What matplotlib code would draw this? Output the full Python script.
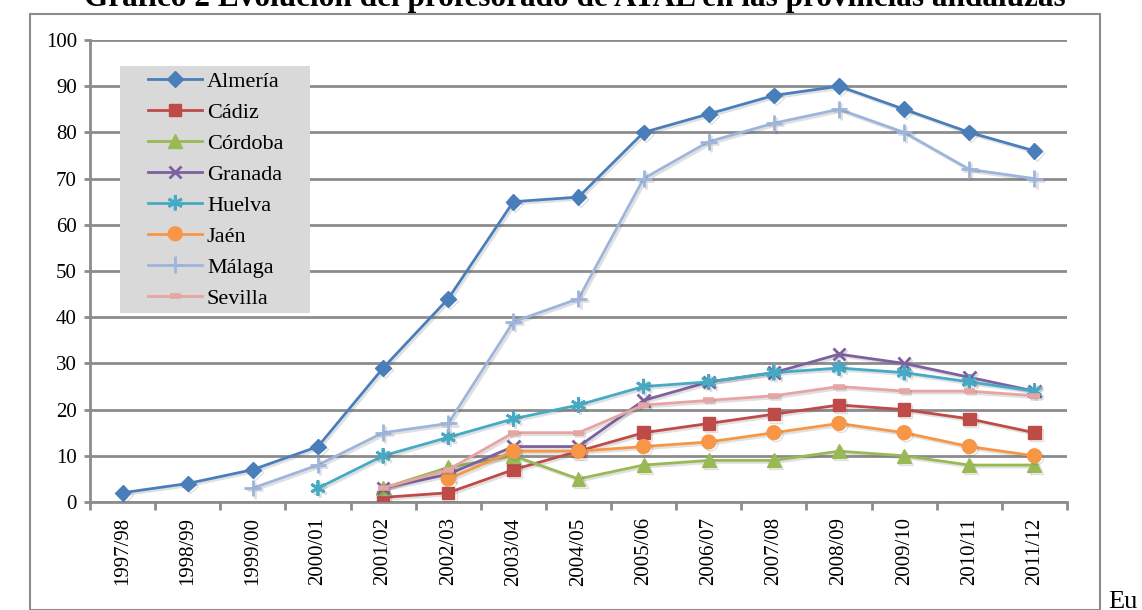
import matplotlib
matplotlib.use("Agg")
import matplotlib.pyplot as plt
import matplotlib.patheffects as pe
import numpy as np
from matplotlib.patches import Rectangle

years = ["1997/98", "1998/99", "1999/00", "2000/01", "2001/02", "2002/03", "2003/04",
         "2004/05", "2005/06", "2006/07", "2007/08", "2008/09", "2009/10", "2010/11", "2011/12"]
N = None
almeria = [2, 4, 7, 12, 29, 44, 65, 66, 80, 84, 88, 90, 85, 80, 76]
cadiz   = [N, N, N, N, 1, 2, 7, 11, 15, 17, 19, 21, 20, 18, 15]
cordoba = [N, N, N, N, 3, 7.5, 10, 5, 8, 9, 9, 11, 10, 8, 8]
granada = [N, N, N, N, 3, 6, 12, 12, 22, 26, 28, 32, 30, 27, 24]
huelva  = [N, N, N, 3, 10, 14, 18, 21, 25, 26, 28, 29, 28, 26, 24]
jaen    = [N, N, N, N, N, 5, 11, 11, 12, 13, 15, 17, 15, 12, 10]
malaga  = [N, N, 3, 8, 15, 17, 39, 44, 70, 78, 82, 85, 80, 72, 70]
sevilla = [N, N, N, N, 3, 7, 15, 15, 21, 22, 23, 25, 24, 24, 23]

series = [
    ("Almería", almeria, "#4a7ebb", "D", 8),
    ("Cádiz", cadiz, "#be4b48", "s", 9),
    ("Córdoba", cordoba, "#98b954", "^", 10),
    ("Granada", granada, "#7d60a0", "x", 9),
    ("Huelva", huelva, "#46aac5", (6, 2, 0), 11),
    ("Jaén", jaen, "#f79646", "o", 10),
    ("Málaga", malaga, "#9db5dc", "+", 12),
    ("Sevilla", sevilla, "#e6a4a3", "_", 8),
]

W, H = 1142, 610
fig = plt.figure(figsize=(W / 100, H / 100), dpi=100)
serif = ["Liberation Serif", "DejaVu Serif"]

ax = fig.add_axes([90 / W, 1 - 502 / H, (1067 - 90) / W, (502 - 40) / H])
x = np.arange(len(years))
shadow = [pe.SimpleLineShadow(offset=(1.5, -1.5), shadow_color="#555555", alpha=0.18), pe.Normal()]
handles = []
for name, vals, col, mk, ms in series:
    v = np.array([np.nan if a is None else a for a in vals], dtype=float)
    mew = 2 if mk in ("x", "+", (6, 2, 0)) else 1
    if mk == "_":
        mew = 4
    ln, = ax.plot(x, v, color=col, lw=2, marker=mk, ms=ms, mec=col, mfc=col, mew=mew,
                  label=name, zorder=3, path_effects=shadow)
    handles.append(ln)

ax.set_xlim(-0.5, len(years) - 0.5)
ax.set_ylim(0, 100)
ax.set_yticks(range(0, 101, 10))
ax.yaxis.grid(True, color="#8c8c8c", lw=2)
ax.set_axisbelow(True)
for s in ["top", "right"]:
    ax.spines[s].set_visible(False)
ax.spines["left"].set_color("#8c8c8c")
ax.spines["bottom"].set_color("#8c8c8c")
ax.spines["left"].set_linewidth(2)
ax.spines["bottom"].set_linewidth(2)
ax.set_xticks(x)
ax.set_xticklabels(years, rotation=90, fontsize=15, family=serif)
ax.set_xticks(np.arange(-0.5, len(years), 1), minor=True)
ax.tick_params(axis="x", which="major", length=0, pad=11)
ax.tick_params(axis="x", which="minor", length=6, color="#8c8c8c", width=2)
ax.tick_params(axis="y", length=4.5, color="#8c8c8c", width=2, labelsize=15, pad=5)
for lab in ax.get_yticklabels():
    lab.set_family(serif)

# legend background box (inside the axes so it sits under the legend, over the grid)
ax.add_patch(Rectangle((120 / W, 1 - 313 / H), (310 - 120) / W, (313 - 66) / H,
                       transform=fig.transFigure, facecolor="#d9d9d9",
                       edgecolor="none", zorder=2.5))
leg = ax.legend(handles=handles, loc="upper left",
                bbox_to_anchor=(148 / W, 1 - 71 / H), bbox_transform=fig.transFigure,
                prop={"family": serif, "size": 16}, frameon=False,
                labelspacing=0.47, handlelength=2.45, handletextpad=0.2, borderpad=0,
                borderaxespad=0)
leg.set_zorder(6)
for h in leg.legend_handles:
    h.set_path_effects([pe.Normal()])

fig.patches.append(Rectangle((30 / W, 0), (1100 - 30) / W, 1 - 14 / H,
                             transform=fig.transFigure, fill=False,
                             edgecolor="#8c8c8c", lw=1.5))
fig.text(575 / W, 1 - 6 / H, "Gráfico 2 Evolución del profesorado de ATAL en las provincias andaluzas",
         ha="center", va="baseline", fontsize=22.5, fontweight="bold", family=serif)
fig.text(1108 / W, 1 - 608 / H, "Eu", ha="left", va="baseline", fontsize=19, family=serif)

fig.savefig("out.png", dpi=100)
